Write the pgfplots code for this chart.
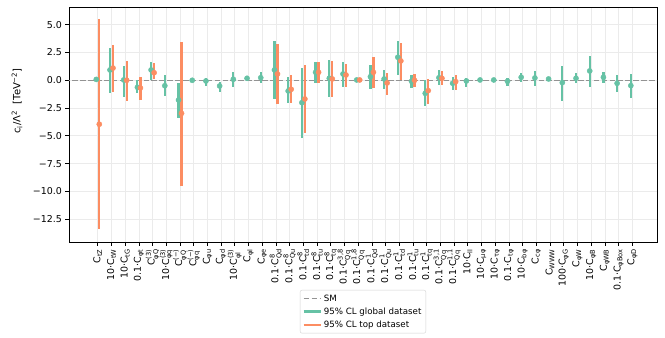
\documentclass[border=0pt]{standalone}
\usepackage{amsmath}
\usepackage{fontspec}
\setmainfont{DejaVu Sans}
\usepackage{pgfplots}
\pgfplotsset{compat=1.18}
\usepackage{pgfplotstable}
\definecolor{sgreen}{HTML}{66C2A5}
\definecolor{sorange}{HTML}{FC8D62}
\definecolor{gridc}{HTML}{EBEBEB}
\newcommand{\C}[1]{C$_{\text{#1}}$}
\newcommand{\CC}[2]{C$_{\text{#1}}^{\text{#2}}$}

\pgfplotstableread{
i c lo hi
0 0.08 -0.05 0.20
1 0.93 -1.17 2.93
2 0.03 -1.47 1.31
3 -0.63 -1.17 0.03
4 0.93 0.03 1.67
5 -0.49 -1.41 0.45
6 -1.77 -3.42 -0.22
7 0.00 -0.10 0.10
8 -0.06 -0.50 0.23
9 -0.51 -1.03 -0.12
10 0.09 -0.63 0.77
11 0.18 0.05 0.30
12 0.23 -0.27 0.77
13 0.93 -1.71 3.53
14 -0.96 -2.07 0.27
15 -2.01 -5.16 1.08
16 0.72 -0.27 1.67
17 0.18 -1.47 1.83
18 0.57 -0.57 1.62
19 0.03 -0.08 0.12
20 0.32 -0.75 1.38
21 0.12 -0.81 0.93
22 2.07 0.45 3.56
23 -0.09 -0.72 0.48
24 -1.17 -2.31 0.03
25 0.23 -0.42 0.93
26 -0.27 -0.87 0.32
27 -0.06 -0.57 0.18
28 0.03 -0.08 0.12
29 0.03 -0.08 0.12
30 -0.09 -0.48 0.23
31 0.27 -0.12 0.68
32 0.21 -0.51 0.86
33 0.12 0.00 0.22
34 -0.21 -1.83 1.29
35 0.18 -0.27 0.63
36 0.84 -0.57 2.19
37 0.27 -0.21 0.72
38 -0.27 -1.02 0.45
39 -0.48 -1.56 0.57
}\globaldata

\pgfplotstableread{
i c lo hi
0 -3.95 -13.40 5.50
1 1.10 -1.03 3.17
2 0.00 -1.83 1.74
3 -0.69 -1.77 0.32
4 0.68 0.12 1.53
6 -2.97 -9.48 3.47
13 0.57 -2.13 3.24
14 -0.81 -2.07 0.45
15 -1.68 -4.77 1.35
16 0.72 -0.27 1.67
17 0.12 -1.47 1.74
18 0.48 -0.63 1.47
19 0.03 -0.06 0.10
20 0.72 -0.66 2.07
21 -0.24 -1.32 0.68
22 1.74 0.03 3.35
23 0.00 -0.63 0.54
24 -0.93 -2.13 0.14
25 0.18 -0.39 0.81
26 -0.12 -0.87 0.48
}\topdata

\begin{document}
\begin{tikzpicture}
\begin{axis}[
  scale only axis,
  width=588bp, height=235bp,
  xmin=-2.1, xmax=40.8,
  ymin=-14.54, ymax=6.59,
  xtick={0,...,39},
  xticklabels={
    {\C{tZ}},{10·\C{tW}},{10·\C{tG}},{0.1·\C{φt}},{\CC{φQ}{(3)}},
    {10·\CC{φq}{(3)}},{\CC{φQ}{(−)}},{\CC{φq}{(−)}},{\C{φu}},{\C{φd}},
    {10·\CC{φl}{(3)}},{\C{φl}},{\C{φe}},
    {0.1·\CC{Qd}{8}},{0.1·\CC{Qu}{8}},{0.1·\CC{td}{8}},{0.1·\CC{tu}{8}},{0.1·\CC{tq}{8}},
    {0.1·\CC{Qq}{3,8}},{0.1·\CC{Qq}{1,8}},
    {0.1·\CC{Qd}{1}},{0.1·\CC{Qu}{1}},{0.1·\CC{td}{1}},{0.1·\CC{tu}{1}},{0.1·\CC{tq}{1}},
    {0.1·\CC{Qq}{3,1}},{0.1·\CC{Qq}{1,1}},
    {10·\C{ll}},{10·\C{μφ}},{10·\C{τφ}},{0.1·\C{tφ}},{10·\C{bφ}},{\C{cφ}},
    {\C{WWW}},{100·\C{φG}},{\C{φW}},{10·\C{φB}},{\C{φWB}},{0.1·\C{φBox}},{\C{φD}}
  },
  ytick={-12.5,-10,-7.5,-5,-2.5,0,2.5,5},
  yticklabels={−12.5,−10.0,−7.5,−5.0,−2.5,0.0,2.5,5.0},
  ticklabel style={font=\fontsize{9.5}{11}\selectfont},
  xticklabel style={rotate=90, anchor=east},
  tick align=outside,
  xtick pos=bottom, ytick pos=left,
  major tick length=3.5bp,
  tick style={black, line width=0.8bp},
  axis line style={black, line width=0.8bp},
  grid=major,
  major grid style={gridc, line width=0.8bp},
  ylabel={c$_{\text{i}}$/Λ$^{\text{2}}$\ \ [TeV$^{\text{−2}}$]},
  ylabel style={font=\fontsize{9.5}{11}\selectfont},
  every axis y label/.style={at={(axis description cs:-0.0884,0.6)}, rotate=90, anchor=center},
  legend style={at={(axis description cs:0.5,-0.204)}, anchor=north,
    draw=gray!35, rounded corners=2bp, fill=white,
    font=\fontsize{8.7}{10.5}\selectfont, row sep=1bp, inner sep=2.5bp},
  legend cell align=left,
]
\addplot[color=gray!85, line width=1.3bp, dash pattern=on 5.5bp off 2.4bp] coordinates {(-3,0) (42,0)};
\addlegendentry{SM}

\addplot[forget plot, only marks, mark=*, mark size=2.6bp, color=sgreen,
  error bars/.cd, y dir=both, y explicit, error mark=none,
  error bar style={line width=2.2bp, sgreen}]
  table[x expr=\thisrow{i}-0.11, y=c,
        y error plus expr=\thisrow{hi}-\thisrow{c},
        y error minus expr=\thisrow{c}-\thisrow{lo}] {\globaldata};

\addplot[forget plot, only marks, mark=*, mark size=2.6bp, color=sorange,
  error bars/.cd, y dir=both, y explicit, error mark=none,
  error bar style={line width=2.2bp, sorange}]
  table[x expr=\thisrow{i}+0.11, y=c,
        y error plus expr=\thisrow{hi}-\thisrow{c},
        y error minus expr=\thisrow{c}-\thisrow{lo}] {\topdata};

\addlegendimage{sgreen, line width=2.2bp}
\addlegendentry{95\% CL global dataset}
\addlegendimage{sorange, line width=2.2bp}
\addlegendentry{95\% CL top dataset}
\end{axis}
\pgfresetboundingbox
\path[use as bounding box] ([xshift=-69bp,yshift=-96bp]current axis.south west) rectangle ([xshift=8bp,yshift=7bp]current axis.north east);
\end{tikzpicture}
\end{document}
